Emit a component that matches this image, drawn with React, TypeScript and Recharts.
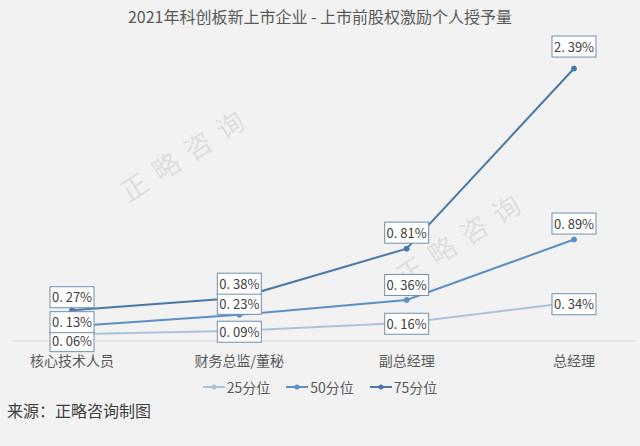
import React from 'react';
import { LineChart, Line, XAxis, YAxis } from 'recharts';

const categories = ['核心技术人员', '财务总监/董秘', '副总经理', '总经理'];
const p25 = [0.06, 0.09, 0.16, 0.34];
const p50 = [0.13, 0.23, 0.36, 0.89];
const p75 = [0.27, 0.38, 0.81, 2.39];

const seriesNames = ['25分位', '50分位', '75分位'];
const seriesColors = ['#adc3da', '#5d90c2', '#4a79a6'];

// vertical shift of each label box relative to its point
const labelShift = [
  [7, 1, 1, 2],
  [-4, -11, -15, -16],
  [-13, -14, -16, -22],
];

const data = categories.map((name, i) => ({ name, p25: p25[i], p50: p50[i], p75: p75[i] }));

const font = '"Noto Sans CJK SC", "Noto Sans", sans-serif';

const makeLabel = (s: number) => (props: any) => {
  const { x, y, value, index } = props;
  const [a, b] = Number(value).toFixed(2).split('.');
  const text = `${a}. ${b}%`;
  const w = 44;
  const h = 21;
  const cy = y + labelShift[s][index];
  return (
    <g>
      <rect x={x - w / 2} y={cy - h / 2} width={w} height={h} fill="#ffffff" stroke="#6f8fae" strokeWidth={1} />
      <text x={x} y={cy + 5} textAnchor="middle" fontSize={13} fill="#404040" fontFamily={font}>
        {text}
      </text>
    </g>
  );
};

const keys = ['p25', 'p50', 'p75'];

const watermark = (cx: number, cy: number) => (
  <div
    style={{
      position: 'absolute',
      left: cx,
      top: cy,
      transform: 'translate(-50%, -50%) rotate(-33deg)',
      fontSize: 27,
      color: '#000',
      opacity: 0.08,
      letterSpacing: 11,
      whiteSpace: 'nowrap',
    }}
  >
    正略咨询
  </div>
);

const App: React.FC = () => {
  return (
    <div style={{ position: 'relative', width: 640, height: 446, background: '#f2f2f2', fontFamily: font, overflow: 'hidden' }}>
      <style>{'body{margin:0}'}</style>
      <div style={{ position: 'absolute', top: 4, width: 640, textAlign: 'center', fontSize: 16, color: '#595959' }}>
        2021年科创板新上市企业 - 上市前股权激励个人授予量
      </div>
      {watermark(186, 152)}
      {watermark(462, 236)}
      <div style={{ position: 'absolute', left: 0, top: 0 }}>
        <LineChart width={640} height={446} data={data} margin={{ top: 56, right: 5, left: 13, bottom: 75 }}>
          <XAxis
            dataKey="name"
            axisLine={{ stroke: '#d9d9d9' }}
            tickLine={false}
            tickMargin={9}
            padding={{ left: 59, right: 61 }}
            tick={{ fill: '#595959', fontSize: 14, fontFamily: font }}
            interval={0}
          />
          <YAxis hide domain={[0, 2.5]} />
          {keys.map((k, s) => (
            <Line
              key={k}
              dataKey={k}
              name={seriesNames[s]}
              stroke={seriesColors[s]}
              strokeWidth={2}
              dot={{ r: 2.5, fill: seriesColors[s], stroke: seriesColors[s], strokeWidth: 1 }}
              label={makeLabel(s)}
              isAnimationActive={false}
            />
          ))}
        </LineChart>
      </div>
      <div style={{ position: 'absolute', top: 377, width: 640, display: 'flex', justifyContent: 'center', gap: 16, fontSize: 14, color: '#595959' }}>
        {seriesNames.map((n, s) => (
          <div key={n} style={{ display: 'flex', alignItems: 'center' }}>
            <svg width={22} height={10} style={{ marginRight: 2 }}>
              <line x1={0} y1={5} x2={22} y2={5} stroke={seriesColors[s]} strokeWidth={2} />
              <circle cx={11} cy={5} r={2.5} fill={seriesColors[s]} />
            </svg>
            {n}
          </div>
        ))}
      </div>
      <div style={{ position: 'absolute', left: 7, top: 398, fontSize: 16, color: '#404040' }}>来源：正略咨询制图</div>
    </div>
  );
};

export default App;
